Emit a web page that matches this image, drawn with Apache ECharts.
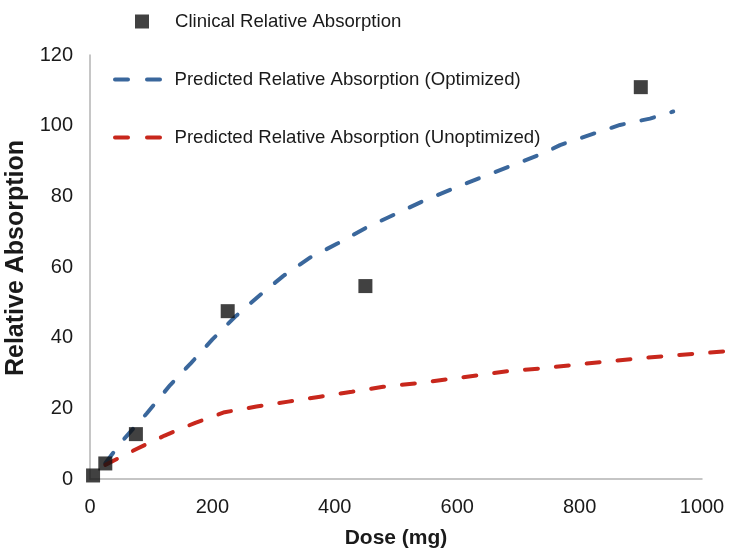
<!DOCTYPE html>
<html>
<head>
<meta charset="utf-8">
<script src="https://cdn.jsdelivr.net/npm/echarts@6/dist/echarts.min.js"></script>
<style>
  html, body { margin: 0; padding: 0; background: #fff; }
  #chart { width: 729px; height: 548px; }
</style>
</head>
<body>
<div id="chart"></div>
<script>
// Clinical measurements: dose (mg) and relative absorption
const clinicalDose = [5, 25, 75, 225, 450, 900];
const clinicalAbsorption = [1, 4.4, 12.7, 47.5, 54.6, 110.9];

// Model prediction, optimized parameters
const optimizedDose = [25, 54, 93, 131, 165, 200, 237, 276, 316, 360, 405, 452, 498, 546, 595, 643, 692, 741, 768, 817, 866, 915, 953];
const optimizedAbsorption = [4.5, 11, 18.6, 26.6, 32.8, 39.5, 45.9, 51.8, 57.5, 62.7, 66.7, 71.2, 74.9, 78.8, 82.3, 85.6, 88.9, 92.2, 94.5, 97.4, 100.2, 102, 104];

// Model prediction, unoptimized parameters (runs past the last tick)
const unoptimizedDose = [25, 76, 122, 172, 220, 272, 324, 376, 428, 479, 545, 686, 738, 790, 843, 895, 947, 1000, 1050];
const unoptimizedAbsorption = [4, 8.5, 12.3, 15.9, 18.9, 20.5, 21.9, 23.3, 24.7, 26.1, 27.3, 30.6, 31.3, 32.3, 33.2, 34.1, 34.9, 35.6, 36.3];

// Axis ticks
const xTicks = { min: 0, max: 1000, interval: 200 };
const yTicks = { min: 0, max: 120, interval: 20 };

const names = [
  'Clinical Relative Absorption',
  'Predicted Relative Absorption (Optimized)',
  'Predicted Relative Absorption (Unoptimized)'
];

const pairs = (xs, ys) => xs.map((x, i) => [x, ys[i]]);

const FONT = '"Liberation Sans", Arial, Helvetica, sans-serif';
const BLUE = '#3a679c';
const RED = '#c8271c';
const INK = '#1a1a1a';

// plot box in pixels
const PLOT = { left: 90, right: 27, top: 55, bottom: 69 };
const chartWidth = 729;
// a wider twin of the x scale, same px per mg, so the red curve may run past 1000
const xExtendedMax = 1060;
const plotWidth = chartWidth - PLOT.left - PLOT.right;
const extRight = chartWidth - PLOT.left - plotWidth * xExtendedMax / xTicks.max;

// two-dash legend glyph with rounded ends
const dashIcon = 'path://M2,0h13a2,2 0 0 1 0,4h-13a2,2 0 0 1 0,-4z M34,0h13a2,2 0 0 1 0,4h-13a2,2 0 0 1 0,-4z';

const legendText = { fontFamily: FONT, fontSize: 18.6, color: INK };

const chart = echarts.init(document.getElementById('chart'), null, { renderer: 'canvas' });

chart.setOption({
  animation: false,
  backgroundColor: '#ffffff',
  grid: [
    Object.assign({ outerBoundsMode: 'none' }, PLOT),
    { outerBoundsMode: 'none', left: PLOT.left, right: extRight, top: PLOT.top, bottom: PLOT.bottom }
  ],
  legend: [
    {
      left: 135, top: 12, padding: 0, itemWidth: 14, itemHeight: 14,
      selectedMode: false,
      textStyle: Object.assign({ padding: [0, 0, 0, 21] }, legendText),
      data: [{ name: names[0], icon: 'rect' }]
    },
    {
      left: 113, top: 70, padding: 0, itemWidth: 50, itemHeight: 4,
      selectedMode: false,
      textStyle: Object.assign({ padding: [0, 0, 0, 7] }, legendText),
      data: [{ name: names[1], icon: dashIcon }]
    },
    {
      left: 113, top: 128, padding: 0, itemWidth: 50, itemHeight: 4,
      selectedMode: false,
      textStyle: Object.assign({ padding: [0, 0, 0, 7] }, legendText),
      data: [{ name: names[2], icon: dashIcon }]
    }
  ],
  xAxis: [
    {
      type: 'value', gridIndex: 0,
      min: xTicks.min, max: xTicks.max, interval: xTicks.interval,
      name: 'Dose (mg)',
      nameLocation: 'middle',
      nameGap: 49,
      nameTextStyle: { fontFamily: FONT, fontSize: 21, fontWeight: 'bold', color: INK },
      axisLine: { show: true, lineStyle: { color: '#b3b3b3', width: 1.5 } },
      axisTick: { show: false },
      splitLine: { show: false },
      axisLabel: { fontFamily: FONT, fontSize: 20, color: INK, margin: 18, formatter: v => String(v) }
    },
    {
      type: 'value', gridIndex: 1, show: false,
      min: xTicks.min, max: xExtendedMax,
      splitLine: { show: false }
    }
  ],
  yAxis: [
    {
      type: 'value', gridIndex: 0,
      min: yTicks.min, max: yTicks.max, interval: yTicks.interval,
      name: 'Relative Absorption',
      nameLocation: 'middle',
      nameRotate: 90,
      nameGap: 54,
      nameTextStyle: { fontFamily: FONT, fontSize: 25, fontWeight: 'bold', color: INK, padding: [0, 0, 0, 18] },
      axisLine: { show: true, lineStyle: { color: '#b3b3b3', width: 1.5 } },
      axisTick: { show: false },
      splitLine: { show: false },
      axisLabel: { fontFamily: FONT, fontSize: 20, color: INK, margin: 17 }
    },
    {
      type: 'value', gridIndex: 1, show: false,
      min: yTicks.min, max: yTicks.max,
      splitLine: { show: false }
    }
  ],
  series: [
    {
      name: names[1],
      type: 'line',
      xAxisIndex: 0, yAxisIndex: 0,
      data: pairs(optimizedDose, optimizedAbsorption),
      symbol: 'none',
      color: BLUE,
      lineStyle: { color: BLUE, width: 4, type: [13, 18], cap: 'round' },
      z: 2
    },
    {
      name: names[2],
      type: 'line',
      xAxisIndex: 1, yAxisIndex: 1,
      data: pairs(unoptimizedDose, unoptimizedAbsorption),
      symbol: 'none',
      clip: false,
      color: RED,
      lineStyle: { color: RED, width: 4, type: [13, 18], cap: 'round' },
      z: 2
    },
    {
      name: names[0],
      type: 'scatter',
      xAxisIndex: 0, yAxisIndex: 0,
      data: pairs(clinicalDose, clinicalAbsorption),
      symbol: 'rect',
      symbolSize: 14,
      color: '#111111',
      itemStyle: { color: '#111111' },
      z: 5
    }
  ]
});
</script>
</body>
</html>
